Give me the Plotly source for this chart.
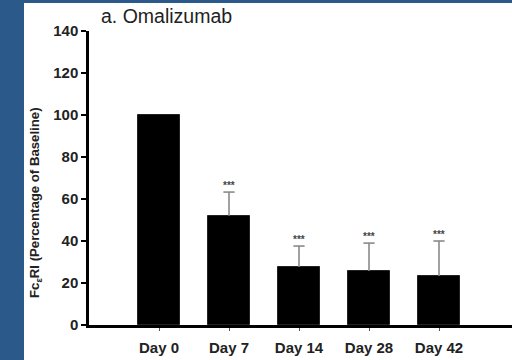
import plotly.graph_objects as go

days = ["Day 0", "Day 7", "Day 14", "Day 28", "Day 42"]
values = [100, 52, 27.6, 25.7, 23.3]
err_up = [0, 11.3, 10.0, 13.3, 16.7]
sig = ["", "***", "***", "***", "***"]
y_ticks = [0, 20, 40, 60, 80, 100, 120, 140]

W, H = 512, 360
L, R, T, B = 89, 0, 31, 35
pw, ph = W - L - R, H - T - B

def px(x):
    return (x - L) / pw

def py(y):
    return (H - B - y) / ph

FONT = "Liberation Sans, Arial"

fig = go.Figure()
fig.add_trace(go.Bar(
    x=days, y=values, width=0.614,
    marker=dict(color="black", line=dict(color="#222", width=1)),
    showlegend=False, hoverinfo="skip",
))

# upper error bars: stems and caps
stem_x, stem_y, cap_x, cap_y = [], [], [], []
for d, v, e in zip(days, values, err_up):
    if e > 0:
        stem_x += [d, d, None]
        stem_y += [v, v + e, None]
        cap_x.append(d)
        cap_y.append(v + e)
fig.add_trace(go.Scatter(x=stem_x, y=stem_y, mode="lines",
                         line=dict(color="#8a8a8a", width=1.6),
                         showlegend=False, hoverinfo="skip"))
fig.add_trace(go.Scatter(x=cap_x, y=cap_y, mode="markers",
                         marker=dict(symbol="line-ew", size=8,
                                     line=dict(color="#8a8a8a", width=1.6)),
                         showlegend=False, hoverinfo="skip"))

for d, v, e, s in zip(days, values, err_up, sig):
    if s:
        fig.add_annotation(x=d, y=v + e, text="<b>" + s + "</b>", showarrow=False,
                           yanchor="middle", yshift=7,
                           font=dict(family=FONT, size=10, color="#444"))

fig.add_annotation(xref="paper", yref="paper", x=px(35), y=py(203),
                   text="<b>Fc<sub>ε</sub>RI (Percentage of Baseline)</b>",
                   textangle=-90, showarrow=False, xanchor="center", yanchor="middle",
                   font=dict(family=FONT, size=13.2, color="#222"))

fig.add_annotation(xref="paper", yref="paper", x=px(99), y=py(16),
                   text="a. Omalizumab", showarrow=False, xanchor="left", yanchor="middle",
                   font=dict(family=FONT, size=19.5, color="#222"))

# white panel on blue background
fig.add_shape(type="rect", xref="paper", yref="paper",
              x0=px(24), x1=px(520), y0=py(370), y1=py(3),
              fillcolor="white", line=dict(width=0), layer="below")

fig.update_layout(
    width=W, height=H,
    margin=dict(l=L, r=R, t=T, b=B),
    paper_bgcolor="#2b5a8a",
    plot_bgcolor="white",
    bargap=0,
    xaxis=dict(range=[-1, -1 + pw / 70], showline=True, linecolor="black", linewidth=2.5,
               ticks="outside", ticklen=3, tickcolor="#555", tickwidth=1,
               ticklabelstandoff=4,
               tickfont=dict(family=FONT, size=15, color="#222", weight="bold"),
               showgrid=False, zeroline=False),
    yaxis=dict(range=[0, 140], tickvals=y_ticks, showline=True, linecolor="black",
               linewidth=2.5, ticks="outside", ticklen=5, tickwidth=2, tickcolor="black",
               tickfont=dict(family=FONT, size=15, color="#222", weight="bold"),
               showgrid=False, zeroline=False),
)

fig.write_html("out.html", config={"displayModeBar": False},
               post_script="document.body.style.margin='0';document.body.style.overflow='hidden';")
